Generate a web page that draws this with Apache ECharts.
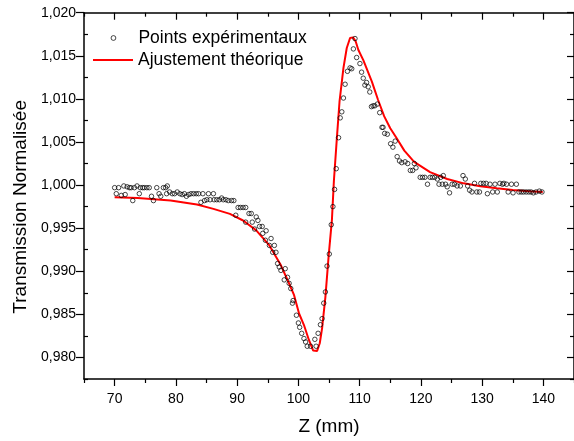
<!DOCTYPE html>
<html>
<head>
<meta charset="utf-8">
<script src="https://cdn.jsdelivr.net/npm/echarts@6/dist/echarts.min.js"></script>
<style>html,body{margin:0;padding:0;background:#fff}#c{width:574px;height:441px}</style>
</head>
<body>
<div id="c"></div>
<script>
// ---- data ----
const expZ = [70.0,70.27,70.65,71.08,71.5,71.72,72.04,72.42,72.69,72.96,73.23,73.66,74.03,74.19,74.57,74.84,75.27,75.65,76.02,76.34,76.88,77.26,77.53,77.96,78.33,78.49,78.6,78.98,79.41,79.78,80.22,80.65,81.02,81.4,81.72,82.1,82.47,82.9,83.33,83.71,84.09,84.41,84.68,85.05,85.32,85.59,86.13,86.24,86.67,87.1,87.47,87.74,88.17,88.55,89.09,89.46,89.78,90.16,90.54,90.97,91.4,91.4,91.94,92.31,92.47,92.85,93.12,93.39,93.66,94.09,94.19,94.62,94.73,95.27,95.54,95.81,96.08,96.34,96.61,96.88,97.15,97.69,97.85,98.23,98.49,98.76,99.03,
99.14,99.68,100.0,100.21,100.54,100.91,101.18,101.45,101.99,102.69,102.9,103.22,103.6,103.87,104.14,104.41,104.68,105.05,105.37,105.64,105.91,106.18,106.56,106.83,107.09,107.36,107.63,108.01,108.44,108.71,108.98,109.24,109.51,110.05,110.32,110.59,110.86,111.13,111.4,111.66,111.93,112.2,112.47,112.9,113.28,113.65,
113.82,114.09,114.52,115.06,115.43,115.81,116.13,116.51,116.88,117.42,117.85,118.28,118.66,118.93,119.2,119.89,120.27,120.65,121.08,121.51,121.88,122.26,122.69,122.96,123.23,123.5,123.66,124.03,124.3,124.68,125.11,125.48,125.92,126.45,126.88,127.26,127.64,127.96,128.34,128.76,129.14,129.57,129.79,130.22,130.65,130.86,131.29,131.72,132.1,132.48,132.9,133.33,133.55,133.98,134.25,134.79,135.05,135.59,136.01,136.39,136.76,137.19,137.62,137.99,138.38,138.8,139.34,139.77];
const expT = [0.9997,0.9990,0.9997,0.9988,0.9999,0.9989,0.9998,0.9997,0.9997,0.9982,0.9997,0.9999,0.9990,0.9997,0.9997,0.9997,0.9997,0.9997,0.9987,0.9982,0.9997,0.9990,0.9987,0.9997,0.9997,0.9990,0.9999,0.9992,0.9990,0.9990,0.9992,0.9990,0.9989,0.9990,0.9987,0.9989,0.9990,0.9990,0.9990,0.9990,0.9980,0.9990,0.9982,0.9983,0.9990,0.9983,0.9990,0.9983,0.9983,0.9983,0.9985,0.9983,0.9983,0.9982,0.9982,0.9982,0.9965,0.9974,0.9974,0.9974,0.9974,0.9957,0.9967,0.9967,0.9957,0.9949,0.9963,0.9959,0.9952,0.9952,0.9944,0.9936,0.9947,0.9930,0.9938,0.9922,0.9930,0.9922,0.9909,0.9905,0.9901,0.9890,0.9903,0.9893,0.9886,0.9880,0.9863,
0.9866,0.9849,0.9840,0.9835,0.9828,0.9822,0.9818,0.9813,0.9813,0.9821,0.9813,0.9828,0.9838,0.9845,0.9863,0.9876,0.9906,0.9920,0.9954,0.9975,0.9995,1.0019,1.0055,1.0078,1.0085,1.0101,1.0117,1.0132,1.0136,1.0135,1.0158,1.0170,1.0148,1.0141,1.0131,1.0124,1.0116,1.0119,1.0114,1.0108,1.0091,1.0092,1.0092,1.0094,1.0084,1.0067,
1.0067,1.0060,1.0059,1.0048,1.0044,1.0051,1.0033,1.0028,1.0026,1.0027,1.0025,1.0017,1.0017,1.0025,1.0020,1.0009,1.0009,1.0009,1.0001,1.0009,1.0009,1.0009,1.0007,1.0001,1.0009,1.0001,1.0011,1.0001,0.9998,0.9991,1.0001,1.0001,0.9999,0.9999,1.0011,1.0007,0.9999,0.9994,0.9992,1.0002,0.9992,0.9992,1.0002,1.0002,1.0002,0.9990,1.0001,0.9992,1.0001,0.9992,1.0002,1.0001,1.0002,1.0001,0.9992,1.0001,0.9991,1.0001,0.9992,0.9992,0.9992,0.9992,0.9992,0.9992,0.9991,0.9992,0.9993,0.9992];

const fitZ = [70,73.76,79.14,83.44,86.13,88.82,90.97,93.12,95.27,97.15,98.49,99.3,100.11,100.91,101.72,102.42,103.06,103.49,103.87,104.41,104.95,105.48,105.8,106.29,106.72,107.36,107.9,108.44,108.92,109.35,109.78,110.6,112,113,114,115,116,117.3,118.9,121.5,124.3,127,129.7,132.4,135,137.7,139.9];
const fitT = [0.99858,0.99851,0.99820,0.99774,0.99724,0.99666,0.99589,0.99474,0.99300,0.99069,0.98858,0.98723,0.98510,0.98376,0.98203,0.98080,0.98076,0.98165,0.98338,0.98700,0.99185,0.99600,1.00050,1.00550,1.00970,1.01360,1.01590,1.01706,1.01714,1.01668,1.01570,1.01450,1.01200,1.00990,1.00800,1.00660,1.00550,1.00400,1.00270,1.00150,1.00070,1.00020,0.99986,0.99962,0.99943,0.99928,0.99920];

const xMajor = [70,80,90,100,110,120,130,140];
const xMinor = [65,75,85,95,105,115,125,135,145];
const yMajor = [0.980,0.985,0.990,0.995,1.000,1.005,1.010,1.015,1.020];
const yMinor = [0.9775,0.9825,0.9875,0.9925,0.9975,1.0025,1.0075,1.0125,1.0175];

const seriesNames = ['Points expérimentaux','Ajustement théorique'];
const xTitle = 'Z (mm)';
const yTitle = 'Transmission Normalisée';

// ---- chart ----
const FONT = "'Liberation Sans', Arial, sans-serif";
const X_MIN = 65, X_MAX = 145, Y_MIN = 0.9775, Y_MAX = 1.020;
const lineStyle = {color:'#000', width:1.5};

function xAx(pos, ticks, len, inside, showLine, label, name){
  return {
    type:'value', position:pos, min:X_MIN, max:X_MAX, gridIndex:0,
    axisLine:{show:showLine, onZero:false, lineStyle},
    axisTick:{show:true, customValues:ticks, length:len, inside:inside, lineStyle:{color:'#000', width:1.2}},
    axisLabel: label ? {show:true, customValues:ticks, margin:13, color:'#000', fontSize:14, fontFamily:FONT} : {show:false},
    splitLine:{show:false},
    name: name || '', nameLocation:'middle', nameGap:38,
    nameTextStyle:{fontSize:19, fontFamily:FONT, color:'#000'}
  };
}
function yAx(pos, ticks, len, inside, showLine, label, name){
  return {
    type:'value', position:pos, min:Y_MIN, max:Y_MAX, gridIndex:0,
    axisLine:{show:showLine, onZero:false, lineStyle},
    axisTick:{show:true, customValues:ticks, length:len, inside:inside, lineStyle:{color:'#000', width:1.2}},
    axisLabel: label ? {show:true, customValues:ticks, margin:8, color:'#000', fontSize:14, fontFamily:FONT,
      formatter: v => v.toFixed(3).replace('.', ',')} : {show:false},
    splitLine:{show:false},
    name: name || '', nameLocation:'middle', nameGap:50,
    nameTextStyle:{fontSize:19, fontFamily:FONT, color:'#000', padding:[0,22,0,0]}
  };
}

const circleIcon = 'path://M0,0 M40,6 M22.4,3 A2.4,2.4 0 1 1 17.6,3 A2.4,2.4 0 1 1 22.4,3 Z';

const chart = echarts.init(document.getElementById('c'), null, {renderer:'canvas'});
chart.setOption({
  animation:false,
  backgroundColor:'#fff',
  grid:{left:84, right:-6, top:12.7, bottom:60.3, containLabel:false},
  xAxis:[
    xAx('bottom', xMajor, 7, false, true, true, xTitle),
    xAx('bottom', xMinor, 4, false, false, false),
    xAx('top', xMajor, 7, true, true, false),
    xAx('top', xMinor, 4, true, false, false)
  ],
  yAxis:[
    yAx('left', yMajor, 8, false, true, true, yTitle),
    yAx('left', yMinor, 4, true, false, false),
    yAx('right', yMajor, 7, true, true, false),
    yAx('right', yMinor, 4, true, false, false)
  ],
  legend:[
    {data:[{name:seriesNames[0], icon:circleIcon,
            itemStyle:{color:'rgba(0,0,0,0)', borderColor:'#000', borderWidth:0.9}}],
     left:93, top:28, orient:'vertical', padding:0,
     itemWidth:40, itemHeight:6, selectedMode:false,
     textStyle:{fontSize:17.5, fontFamily:FONT, color:'#000', lineHeight:20}},
    {data:[{name:seriesNames[1], icon:'rect'}], left:93, top:50, orient:'vertical', padding:0,
     itemWidth:40, itemHeight:2, selectedMode:false,
     textStyle:{fontSize:17.5, fontFamily:FONT, color:'#000', lineHeight:20}}
  ],
  series:[
    {name:seriesNames[1], type:'line', xAxisIndex:0, yAxisIndex:0,
     data: fitZ.map((z,i)=>[z, fitT[i]]), showSymbol:false, symbol:'none', smooth:false,
     lineStyle:{color:'#ff0000', width:2}, itemStyle:{color:'#ff0000'}, z:2},
    {name:seriesNames[0], type:'scatter', xAxisIndex:0, yAxisIndex:0,
     data: expZ.map((z,i)=>[z, expT[i]]), symbol:'circle', symbolSize:4.5,
     itemStyle:{color:'rgba(0,0,0,0)', borderColor:'#000', borderWidth:0.9}, z:3}
  ]
});
</script>
</body>
</html>
